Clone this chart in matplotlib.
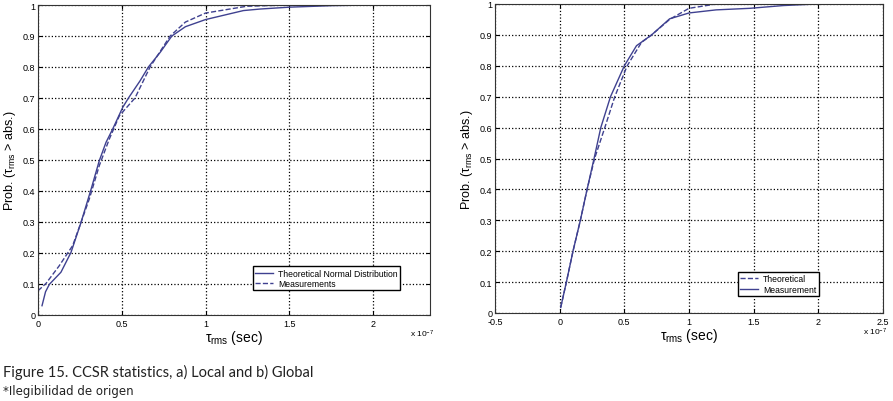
import matplotlib
matplotlib.use('Agg')
import matplotlib.pyplot as plt

# values, x in units of 1e-7 s
local_theo_x = [0.024, 0.045, 0.068, 0.137, 0.197, 0.257, 0.317, 0.366, 0.406, 0.446, 0.506, 0.54,
                0.61, 0.659, 0.729, 0.799, 0.88, 1.0, 1.226, 1.326, 1.5, 1.76, 2.0, 2.34]
local_theo_y = [0.03, 0.075, 0.099, 0.138, 0.202, 0.299, 0.406, 0.498, 0.557, 0.6, 0.67, 0.70,
                0.756, 0.80, 0.847, 0.90, 0.93, 0.953, 0.982, 0.987, 0.993, 0.998, 1.0, 1.0]
local_meas_x = [0.0, 0.048, 0.127, 0.207, 0.257, 0.306, 0.366, 0.426, 0.486, 0.579, 0.669, 0.789,
                0.88, 1.0, 1.246, 1.5, 2.34]
local_meas_y = [0.078, 0.102, 0.159, 0.224, 0.299, 0.374, 0.482, 0.568, 0.643, 0.70, 0.80, 0.90,
                0.945, 0.974, 0.996, 1.0, 1.0]

global_theo_x = [0.008, 0.052, 0.103, 0.16, 0.212, 0.27, 0.349, 0.426, 0.522, 0.633, 0.711, 0.853,
                 1.0, 1.21, 1.6, 2.0, 2.5]
global_theo_y = [0.018, 0.1, 0.2, 0.3, 0.4, 0.5, 0.6, 0.7, 0.8, 0.876, 0.9, 0.951,
                 0.986, 1.0, 1.0, 1.0, 1.0]
global_meas_x = [0.008, 0.052, 0.103, 0.16, 0.212, 0.266, 0.318, 0.393, 0.5, 0.594, 0.711, 0.85,
                 1.0, 1.21, 1.47, 1.73, 1.99, 2.5]
global_meas_y = [0.018, 0.1, 0.2, 0.3, 0.4, 0.5, 0.6, 0.7, 0.8, 0.865, 0.9, 0.952,
                 0.971, 0.981, 0.986, 0.995, 1.0, 1.0]

line_col = '#3f4190'
W, H = 893, 402
plt.rcParams['font.family'] = ['Liberation Sans', 'DejaVu Sans']
plt.rcParams['mathtext.fontset'] = 'custom'
plt.rcParams['mathtext.rm'] = 'Liberation Sans'
plt.rcParams['mathtext.it'] = 'Liberation Sans'

fig = plt.figure(figsize=(W / 100, H / 100), dpi=100)
ax1 = fig.add_axes([38 / W, 1 - 316 / H, (430 - 38) / W, (316 - 6) / H])
ax2 = fig.add_axes([495 / W, 1 - 314 / H, (883 - 495) / W, (314 - 5) / H])

ax1.plot(local_theo_x, local_theo_y, '-', color=line_col, lw=1.0, label='Theoretical Normal Distribution')
ax1.plot(local_meas_x, local_meas_y, '--', color=line_col, lw=1.0, label='Measurements')
ax1.set_xlim(0, 2.34)
ax1.set_xticks([0, 0.5, 1, 1.5, 2])
ax1.set_xticklabels(['0', '0.5', '1', '1.5', '2'])

ax2.plot(global_theo_x, global_theo_y, '--', color=line_col, lw=1.0, label='Theoretical')
ax2.plot(global_meas_x, global_meas_y, '-', color=line_col, lw=1.0, label='Measurement')
ax2.set_xlim(-0.5, 2.5)
ax2.set_xticks([-0.5, 0, 0.5, 1, 1.5, 2, 2.5])
ax2.set_xticklabels(['-0.5', '0', '0.5', '1', '1.5', '2', '2.5'])

yt = [i / 10 for i in range(11)]
ylabs = ['0'] + ['%.1f' % v for v in yt[1:-1]] + ['1']

for ax in (ax1, ax2):
    ax.set_ylim(0, 1)
    ax.set_yticks(yt)
    ax.set_yticklabels(ylabs)
    ax.grid(True, linestyle=':', color='black', linewidth=0.9)
    ax.tick_params(direction='in', top=True, right=True, labelsize=6.5, length=3, pad=2)
    ax.tick_params(axis='x', pad=3)
    for s in ax.spines.values():
        s.set_color('#333333')
    ax.set_xlabel(r'$\tau_{\rm rms}$ (sec)', fontsize=10, labelpad=0)
    ax.set_ylabel(r'Prob. ($\tau_{\rm rms}$ > abs.)', fontsize=9, labelpad=3)
    ax.text(1.01, -0.04, r'x 10$^{-7}$', transform=ax.transAxes, ha='right', va='top', fontsize=6)

ax1.legend(loc='upper left', bbox_to_anchor=(0.548, 0.158), borderaxespad=0, fontsize=6.2,
           fancybox=False, edgecolor='black', framealpha=1, borderpad=0.3, handlelength=2.0,
           labelspacing=0.15, handletextpad=0.6)
ax2.legend(loc='upper left', bbox_to_anchor=(0.626, 0.133), borderaxespad=0, fontsize=6.2,
           fancybox=False, edgecolor='black', framealpha=1, borderpad=0.3, handlelength=2.0,
           labelspacing=0.15, handletextpad=0.6)

fig.text(3 / W, 1 - 372 / H, 'Figure 15. CCSR statistics, a) Local and b) Global', fontsize=10.5,
         family='Lato', va='center', color='#222222')
fig.text(3 / W, 1 - 392 / H, '*Ilegibilidad de origen', fontsize=8.5, family='DejaVu Sans',
         va='center', color='#222222')

fig.savefig('out.png', dpi=100)
